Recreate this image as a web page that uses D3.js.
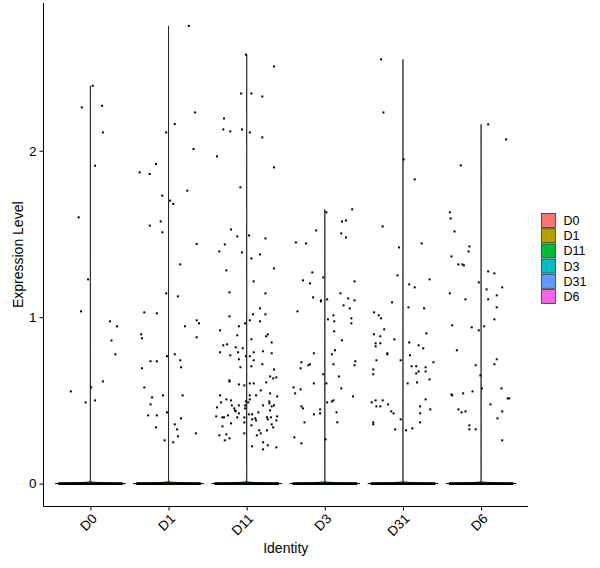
<!DOCTYPE html>
<html>
<head>
<meta charset="utf-8">
<script src="https://cdn.jsdelivr.net/npm/d3@7"></script>
<style>
  body { margin: 0; background: #fff; }
  svg text { font-family: "Liberation Sans", Arial, sans-serif; fill: #000; }
</style>
</head>
<body>
<svg id="chart" width="600" height="568"></svg>
<script>
// identities and colours (ggplot default hue palette)
const identities = ["D0", "D1", "D11", "D3", "D31", "D6"];
const colors = ["#F8766D", "#B79F00", "#00BA38", "#00BFC4", "#619CFF", "#F564E3"];
const yTicks = [0, 1, 2];
// cells with zero expression per identity (overplotted at 0)
const zeroCounts = [900, 850, 800, 850, 800, 800];

// non-zero cells: [jitter (fraction of band), expression]
const d0Cells = [[0.03,2.39],[-0.11,2.26],[0.15,2.27],[0.16,2.11],[0.06,1.91],[-0.15,1.60],
  [-0.03,1.227],[-0.12,1.035],[0.25,0.975],[0.34,0.945],[0.27,0.86],[0.32,0.777],[0.16,0.614],
  [-0.25,0.554],[0.01,0.578],[-0.06,0.488],[0.06,0.50]];
const d1Cells = [[0.26,2.75],[0.34,2.23],[0.08,2.16],[-0.03,2.11],[0.32,2.01],[-0.16,1.92],
  [-0.37,1.87],[-0.24,1.86],[0.24,1.76],[-0.08,1.73],[0.02,1.70],[0.06,1.68],[-0.10,1.575],
  [-0.24,1.55],[-0.08,1.51],[0.36,1.44],[0.15,1.317],[-0.03,1.143],[0.12,1.125],[-0.31,1.029],
  [-0.15,1.023],[0.36,0.981],[0.39,0.963],[0.21,0.945],[-0.35,0.897],[-0.34,0.873],[0.36,0.879],
  [-0.02,0.765],[0.08,0.777],[-0.23,0.735],[-0.15,0.735],[0.15,0.741],[-0.34,0.693],[0.16,0.699],
  [-0.31,0.578],[-0.07,0.530],[0.18,0.530],[-0.21,0.518],[-0.23,0.476],[-0.02,0.428],[-0.26,0.410],
  [-0.15,0.410],[0.16,0.392],[-0.16,0.338],[0.08,0.356],[0.11,0.326],[0.35,0.302],[0.12,0.284],
  [-0.05,0.260],[0.06,0.248]];
const d11Cells = [[-0.01,2.577],[0.35,2.506],[-0.07,2.344],[0.06,2.344],[0.20,2.326],[-0.29,2.194],
  [-0.30,2.128],[-0.21,2.116],[-0.06,2.128],[0.04,2.110],[0.20,2.080],[-0.38,1.966],[0.35,1.900],
  [-0.08,1.780],[-0.20,1.527],[-0.12,1.485],[0.03,1.491],[0.24,1.473],[-0.28,1.437],[-0.35,1.395],
  [-0.06,1.389],[0.17,1.377],[0.06,1.353],[-0.26,1.281],[0.35,1.293],[0.09,1.215],
  [-0.22,1.149],[0.24,1.143],[0.17,1.053],[0.24,1.017],[0.08,1.017],[-0.22,1.005],[0.04,0.981],
  [0.17,0.975],[-0.02,0.963],[-0.10,0.945],[-0.34,0.921],[0.27,0.897],[0.25,0.885],[-0.12,0.891],
  [0.06,0.867],[0.32,0.848],[-0.25,0.837],[-0.30,0.831],[-0.14,0.819],[-0.05,0.813],[-0.34,0.789],
  [-0.11,0.789],[0.09,0.789],[0.21,0.795],[0.32,0.783],[-0.21,0.771],[-0.01,0.765],[0.04,0.765],
  [-0.10,0.747],[0.09,0.741],[0.20,0.717],[0.06,0.705],[-0.08,0.699],[0.35,0.686],[0.30,0.644],
  [0.34,0.632],[0.38,0.638],[-0.22,0.620],[-0.22,0.613],[0.25,0.608],[-0.10,0.596],[-0.03,0.590],
  [0.04,0.602],[0.09,0.602],[0.18,0.560],[-0.34,0.530],[0.04,0.530],[0.12,0.530],[0.30,0.542],
  [0.39,0.524],[0.04,0.506],[-0.26,0.506],[-0.20,0.500],[-0.01,0.494],[-0.33,0.488],[0.02,0.488],
  [0.29,0.494],[0.29,0.482],[-0.19,0.470],[-0.10,0.470],[-0.02,0.470],[0.21,0.470],[0.35,0.470],
  [0.32,0.464],[-0.38,0.458],[-0.16,0.452],[-0.02,0.452],[-0.15,0.440],[-0.14,0.434],[0.15,0.428],
  [0.30,0.440],[-0.10,0.422],[0.03,0.416],[0.07,0.416],[-0.39,0.404],[-0.24,0.410],[-0.31,0.398],
  [-0.29,0.398],[-0.12,0.398],[-0.03,0.398],[0.11,0.392],[0.26,0.398],[0.31,0.398],[0.39,0.404],
  [0.07,0.386],[0.12,0.380],[0.27,0.386],[0.38,0.380],[-0.03,0.368],[-0.20,0.362],[0.32,0.356],
  [0.06,0.350],[-0.31,0.344],[0.34,0.338],[0.16,0.320],[0.26,0.320],[-0.03,0.302],[0.18,0.302],
  [-0.26,0.296],[-0.35,0.290],[0.13,0.290],[-0.22,0.272],[-0.28,0.260],[0.21,0.248],[0.27,0.230],
  [0.07,0.224],[0.38,0.218],[0.21,0.206]];
const d3Cells = [[0.02,1.630],[0.35,1.648],[0.22,1.575],[0.27,1.581],[-0.11,1.521],[0.21,1.503],
  [0.27,1.479],[-0.37,1.449],[-0.24,1.443],[-0.16,1.269],[-0.28,1.221],[-0.19,1.203],[-0.02,1.239],
  [0.38,1.215],[0.20,1.143],[-0.15,1.119],[-0.05,1.101],[-0.05,1.095],[0.03,1.107],[0.30,1.113],
  [0.38,1.101],[0.24,1.071],[0.32,1.053],[-0.35,1.035],[0.11,1.011],[0.04,0.987],[0.12,0.975],
  [0.34,0.993],[0.34,0.963],[0.12,0.915],[0.22,0.861],[0.13,0.801],[-0.14,0.783],[0.09,0.777],
  [-0.30,0.729],[-0.19,0.717],[-0.21,0.711],[-0.31,0.693],[0.11,0.717],[0.39,0.735],[0.38,0.711],
  [-0.02,0.657],[0.18,0.644],[-0.14,0.602],[0.02,0.602],[-0.40,0.578],[-0.31,0.566],[-0.38,0.542],
  [0.21,0.572],[0.36,0.524],[0.11,0.500],[0.09,0.494],[0.03,0.488],[-0.30,0.464],[-0.28,0.452],
  [-0.06,0.446],[0.15,0.428],[-0.14,0.416],[-0.06,0.422],[-0.26,0.368],[0.16,0.368],[-0.39,0.278],
  [-0.30,0.242],[0.01,0.266]];
const d31Cells = [[-0.28,2.549],[-0.25,2.230],[0.01,1.948],[0.15,1.828],[-0.26,1.545],[-0.05,1.419],
  [0.24,1.443],[-0.07,1.251],[0.34,1.227],[0.08,1.197],[0.15,1.179],[-0.14,1.089],[0.07,1.059],
  [0.27,1.053],[-0.37,1.029],[-0.31,1.011],[-0.28,0.993],[-0.24,0.927],[-0.37,0.897],[-0.29,0.885],
  [0.30,0.903],[-0.11,0.867],[-0.35,0.843],[-0.35,0.825],[-0.29,0.843],[0.08,0.848],[0.20,0.831],
  [0.26,0.813],[-0.20,0.783],[-0.20,0.777],[0.09,0.771],[-0.34,0.741],[-0.03,0.741],[0.39,0.729],
  [0.11,0.705],[0.17,0.705],[0.29,0.699],[-0.38,0.686],[0.20,0.674],[0.29,0.674],[0.17,0.662],
  [-0.38,0.657],[0.34,0.626],[0.06,0.602],[0.18,0.608],[0.29,0.506],[-0.40,0.488],[-0.35,0.500],
  [-0.26,0.500],[-0.34,0.464],[-0.29,0.464],[-0.19,0.476],[0.22,0.464],[0.35,0.446],[-0.15,0.434],
  [-0.12,0.422],[0.22,0.422],[-0.03,0.386],[-0.38,0.368],[-0.38,0.356],[0.22,0.368],[-0.10,0.326],
  [0.04,0.320],[0.12,0.332]];
const d6Cells = [[0.09,2.158],[0.32,2.068],[-0.26,1.912],[-0.40,1.630],[-0.39,1.593],[-0.34,1.515],
  [-0.15,1.425],[-0.16,1.395],[-0.38,1.365],[-0.29,1.317],[-0.24,1.317],[-0.22,1.311],[0.09,1.275],
  [0.17,1.263],[-0.03,1.209],[0.07,1.167],[0.27,1.179],[-0.40,1.143],[0.20,1.131],[-0.20,1.107],
  [0.09,1.107],[0.20,1.059],[0.17,0.987],[-0.37,0.951],[-0.12,0.939],[0.04,0.945],[-0.03,0.921],
  [-0.31,0.801],[0.20,0.747],[0.17,0.717],[-0.07,0.711],[-0.01,0.650],[0.01,0.572],[0.26,0.572],
  [-0.38,0.536],[-0.37,0.530],[-0.23,0.542],[-0.11,0.554],[0.34,0.512],[0.36,0.512],[0.12,0.476],
  [-0.29,0.446],[-0.25,0.428],[-0.20,0.434],[0.27,0.434],[0.21,0.392],[-0.15,0.350],[-0.15,0.326],
  [-0.07,0.326],[0.27,0.260]];
const cellsByIdentity = [d0Cells, d1Cells, d11Cells, d3Cells, d31Cells, d6Cells];

const svg = d3.select("#chart");
const margin = { top: 3, right: 72, bottom: 61.5, left: 43.5 };
const width = 600, height = 568;

const x = d3.scalePoint()
  .domain(identities)
  .range([margin.left, width - margin.right])
  .padding(0.6);
const band = x.step();

const maxVal = d3.max(cellsByIdentity.flat(), (d) => d[1]);
const pad = maxVal * 0.05;
const y = d3.scaleLinear()
  .domain([-pad, maxVal + pad])
  .range([height - margin.bottom, margin.top]);

const color = d3.scaleOrdinal().domain(identities).range(colors);

// violins: gaussian kde over all cells, trimmed to data range
const bw = 0.004;
const kernel = (u) => Math.exp(-0.5 * u * u);
identities.forEach((id, i) => {
  const vals = cellsByIdentity[i].map((d) => d[1]);
  const vmax = d3.max(vals);
  const grid = d3.range(0, vmax, 0.002).concat([vmax]);
  const dens = grid.map((v) => {
    let s = zeroCounts[i] * kernel(v / bw);
    vals.forEach((c) => { s += kernel((v - c) / bw); });
    return { v, s };
  });
  const dmax = d3.max(dens, (d) => d.s);
  const half = band * 0.45;
  const area = d3.area()
    .x0((d) => x(id) - half * d.s / dmax)
    .x1((d) => x(id) + half * d.s / dmax)
    .y((d) => y(d.v));
  svg.append("path")
    .attr("d", area(dens))
    .attr("fill", color(id))
    .attr("stroke", "#000")
    .attr("stroke-width", 0.8);
});

// zero-expression cells overplot into a solid band across the jitter width
const jitterWidth = 0.4;
svg.append("g")
  .selectAll("line")
  .data(identities)
  .join("line")
  .attr("x1", (d) => x(d) - band * jitterWidth - 1)
  .attr("x2", (d) => x(d) + band * jitterWidth + 1)
  .attr("y1", y(0))
  .attr("y2", y(0))
  .attr("stroke", "#000")
  .attr("stroke-width", 2.6);

// jittered non-zero cells
const pts = identities.flatMap((id, i) =>
  cellsByIdentity[i].map((d) => ({ id, jit: d[0], v: d[1] })));
svg.append("g")
  .selectAll("rect")
  .data(pts)
  .join("rect")
  .attr("x", (d) => x(d.id) + d.jit * band - 1)
  .attr("y", (d) => y(d.v) - 1)
  .attr("width", 2)
  .attr("height", 2)
  .attr("fill", "#000");

// axes
const yAxis = svg.append("g")
  .attr("transform", `translate(${margin.left},0)`)
  .call(d3.axisLeft(y).tickValues(yTicks).tickFormat(d3.format("d"))
    .tickSize(4).tickPadding(3).tickSizeOuter(0));
const xAxis = svg.append("g")
  .attr("transform", `translate(0,${height - margin.bottom})`)
  .call(d3.axisBottom(x).tickSize(4).tickSizeOuter(0));

[yAxis, xAxis].forEach((g) => {
  g.select(".domain").attr("stroke", "#000").attr("stroke-width", 1);
  g.selectAll(".tick line").attr("stroke", "#000");
  g.selectAll("text").attr("font-size", 13.5).attr("fill", "#000");
});
// axis lines span the whole panel
yAxis.select(".domain").attr("d", `M0,${margin.top}V${height - margin.bottom}`);
xAxis.select(".domain").attr("d", `M${margin.left},0H${width - margin.right}`);

xAxis.selectAll(".tick text")
  .attr("text-anchor", "end")
  .attr("dy", null)
  .attr("y", null)
  .attr("transform", "translate(7,13) rotate(-45)");

svg.append("text")
  .attr("x", (margin.left + width - margin.right) / 2)
  .attr("y", 553)
  .attr("text-anchor", "middle")
  .attr("font-size", 14)
  .text("Identity");

svg.append("text")
  .attr("transform", `translate(23,${(margin.top + height - margin.bottom) / 2}) rotate(-90)`)
  .attr("text-anchor", "middle")
  .attr("font-size", 14)
  .text("Expression Level");

// legend
const legend = svg.append("g")
  .attr("transform", "translate(541.5,213.5)")
  .selectAll("g")
  .data(identities)
  .join("g")
  .attr("transform", (d, i) => `translate(0,${i * 15.2})`);
legend.append("rect")
  .attr("width", 14)
  .attr("height", 14)
  .attr("fill", (d) => color(d))
  .attr("stroke", "#333")
  .attr("stroke-width", 0.8);
legend.append("text")
  .attr("x", 22)
  .attr("y", 11.5)
  .attr("font-size", 12.5)
  .text((d) => d);
</script>
</body>
</html>
